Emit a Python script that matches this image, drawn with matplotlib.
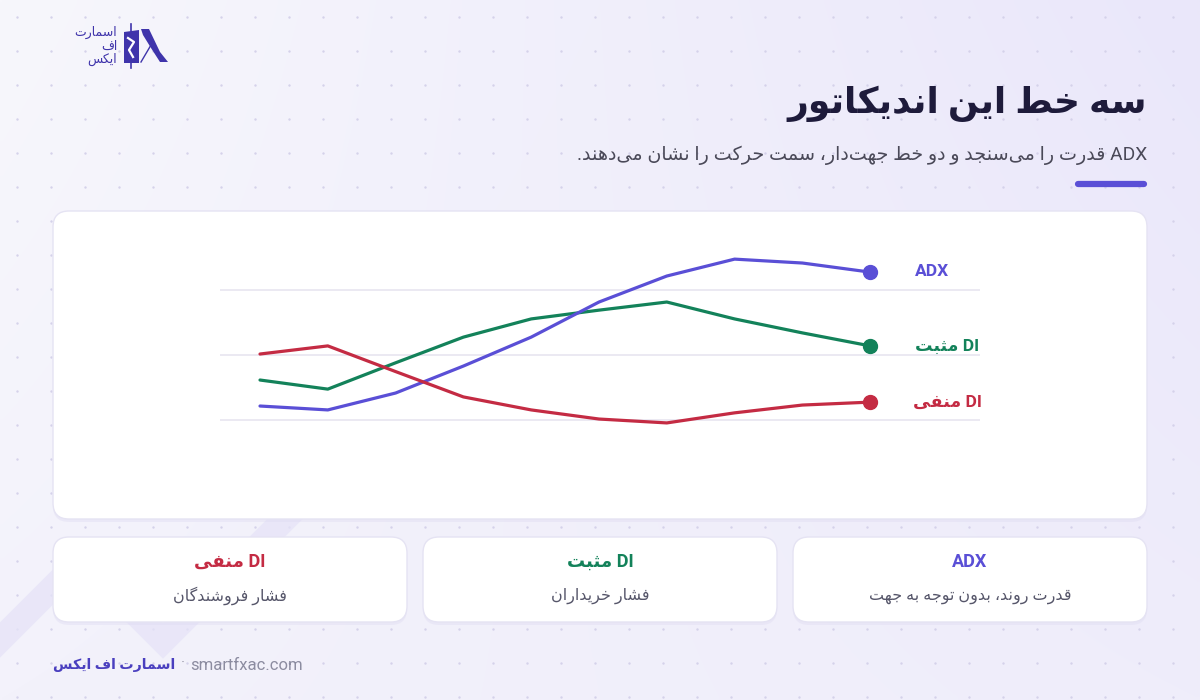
import re
import numpy as np
import matplotlib
matplotlib.use("Agg")
import matplotlib.pyplot as plt
from matplotlib.patches import FancyBboxPatch, Polygon
from matplotlib import font_manager, ft2font

# ---------------- data ----------------
steps = list(range(10))
adx = [24.3, 23.1, 28.3, 36.6, 45.5, 56.3, 64.3, 69.5, 68.3, 65.5]
di_plus = [32.3, 29.5, 37.6, 45.5, 51.1, 53.8, 56.3, 51.1, 46.8, 42.8]
di_minus = [40.3, 42.8, 34.9, 27.1, 23.1, 20.3, 19.1, 22.2, 24.6, 25.5]
grid_values = [20, 40, 60]

series_names = ["ADX", "DI مثبت", "DI منفی"]
series_colors = ["#5a4fd6", "#13825a", "#c42b43"]

title = "سه خط این اندیکاتور"
subtitle = "ADX قدرت را می‌سنجد و دو خط جهت‌دار، سمت حرکت را نشان می‌دهند."
card_titles = ["DI منفی", "DI مثبت", "ADX"]
card_colors = ["#c42b43", "#13825a", "#5a4fd6"]
card_descs = ["فشار فروشندگان", "فشار خریداران", "قدرت روند، بدون توجه به جهت"]
brand = "اسمارت اف ایکس"
url = "smartfxac.com"
logo_lines = ["اسمارت", "اف", "ایکس"]

# ---------------- Persian shaping ----------------
FORMS = {
    'ا': ('\uFE8D', '\uFE8E', None, None),
    'آ': ('\uFE81', '\uFE82', None, None),
    'ب': ('\uFE8F', '\uFE90', '\uFE91', '\uFE92'),
    'پ': ('\uFB56', '\uFB57', '\uFB58', '\uFB59'),
    'ت': ('\uFE95', '\uFE96', '\uFE97', '\uFE98'),
    'ث': ('\uFE99', '\uFE9A', '\uFE9B', '\uFE9C'),
    'ج': ('\uFE9D', '\uFE9E', '\uFE9F', '\uFEA0'),
    'چ': ('\uFB7A', '\uFB7B', '\uFB7C', '\uFB7D'),
    'ح': ('\uFEA1', '\uFEA2', '\uFEA3', '\uFEA4'),
    'خ': ('\uFEA5', '\uFEA6', '\uFEA7', '\uFEA8'),
    'د': ('\uFEA9', '\uFEAA', None, None),
    'ذ': ('\uFEAB', '\uFEAC', None, None),
    'ر': ('\uFEAD', '\uFEAE', None, None),
    'ز': ('\uFEAF', '\uFEB0', None, None),
    'ژ': ('\uFB8A', '\uFB8B', None, None),
    'س': ('\uFEB1', '\uFEB2', '\uFEB3', '\uFEB4'),
    'ش': ('\uFEB5', '\uFEB6', '\uFEB7', '\uFEB8'),
    'ص': ('\uFEB9', '\uFEBA', '\uFEBB', '\uFEBC'),
    'ض': ('\uFEBD', '\uFEBE', '\uFEBF', '\uFEC0'),
    'ط': ('\uFEC1', '\uFEC2', '\uFEC3', '\uFEC4'),
    'ظ': ('\uFEC5', '\uFEC6', '\uFEC7', '\uFEC8'),
    'ع': ('\uFEC9', '\uFECA', '\uFECB', '\uFECC'),
    'غ': ('\uFECD', '\uFECE', '\uFECF', '\uFED0'),
    'ف': ('\uFED1', '\uFED2', '\uFED3', '\uFED4'),
    'ق': ('\uFED5', '\uFED6', '\uFED7', '\uFED8'),
    'ک': ('\uFB8E', '\uFB8F', '\uFB90', '\uFB91'),
    'گ': ('\uFB92', '\uFB93', '\uFB94', '\uFB95'),
    'ل': ('\uFEDD', '\uFEDE', '\uFEDF', '\uFEE0'),
    'م': ('\uFEE1', '\uFEE2', '\uFEE3', '\uFEE4'),
    'ن': ('\uFEE5', '\uFEE6', '\uFEE7', '\uFEE8'),
    'ه': ('\uFEE9', '\uFEEA', '\uFEEB', '\uFEEC'),
    'و': ('\uFEED', '\uFEEE', None, None),
    'ی': ('\uFBFC', '\uFBFD', '\uFBFE', '\uFBFF'),
}
SUBST = {
    '\uFB8E': '\uFED9', '\uFB8F': '\uFEDA', '\uFB90': '\uFEDB', '\uFB91': '\uFEDC',
    '\uFBFC': '\uFEEF', '\uFBFD': '\uFEF0', '\uFBFE': '\uFEF3', '\uFBFF': '\uFEF4',
    '\uFB92': '\uFED9', '\uFB93': '\uFEDA', '\uFB94': '\uFEDB', '\uFB95': '\uFEDC',
    '\uFB56': '\uFE8F', '\uFB57': '\uFE90', '\uFB58': '\uFE91', '\uFB59': '\uFE92',
    '\uFB7A': '\uFE9D', '\uFB7B': '\uFE9E', '\uFB7C': '\uFE9F', '\uFB7D': '\uFEA0',
    '\uFB8A': '\uFEAF', '\uFB8B': '\uFEB0',
}

AR_FAMILY = "DejaVu Sans"


def charmap(weight):
    path = font_manager.findfont(font_manager.FontProperties(family=AR_FAMILY, weight=weight))
    try:
        return set(ft2font.FT2Font(path).get_charmap().keys())
    except Exception:
        return set()


CMAPS = {"normal": charmap("normal"), "bold": charmap("bold")}


def shape(s):
    out = []
    for i, c in enumerate(s):
        if c == '\u200c':
            continue
        if c not in FORMS:
            out.append(c)
            continue
        prev = s[i - 1] if i > 0 else ''
        nxt = s[i + 1] if i + 1 < len(s) else ''
        pj = prev in FORMS and FORMS[prev][2] is not None
        nj = (nxt in FORMS) and FORMS[c][2] is not None
        iso, fin, ini, med = FORMS[c]
        if pj and nj:
            out.append(med)
        elif pj:
            out.append(fin)
        elif nj:
            out.append(ini)
        else:
            out.append(iso)
    return ''.join(out)


def visual(s, weight="normal"):
    sh = shape(s)
    cm = CMAPS.get(weight, set())
    if cm:
        sh = ''.join(SUBST.get(ch, ch) if (ord(ch) not in cm and ch in SUBST) else ch for ch in sh)
    rev = sh[::-1]
    return re.sub(r'[A-Za-z0-9][A-Za-z0-9.\-]*[A-Za-z0-9]|[A-Za-z0-9]',
                  lambda m: m.group(0)[::-1], rev)


def weight_for(s, want):
    if want == "bold":
        sh = shape(s)
        cm = CMAPS["bold"]
        ok = all((ord(ch) in cm) or (ch in SUBST and ord(SUBST[ch]) in cm) or ch.isascii()
                 for ch in sh)
        if not ok:
            return "normal"
    return want


FAM = ["Roboto", AR_FAMILY]


def ptext(ax, x, y, s, size, color, weight="normal", ha="center", va="center", zorder=10):
    w = weight_for(s, weight)
    return ax.text(x, y, visual(s, w), fontsize=size, color=color, fontweight=w,
                   family=FAM, ha=ha, va=va, zorder=zorder)


# ---------------- figure ----------------
W, H = 1200, 700
fig = plt.figure(figsize=(12, 7), dpi=100)
bg = fig.add_axes([0, 0, 1, 1])
bg.set_xlim(0, W)
bg.set_ylim(H, 0)
bg.axis("off")

# gradient background
tl = np.array([247, 247, 252]) / 255
tr = np.array([234, 231, 250]) / 255
bl = np.array([243, 242, 251]) / 255
br = np.array([239, 237, 250]) / 255
u = np.linspace(0, 1, 240)[None, :, None]
v = np.linspace(0, 1, 140)[:, None, None]
img = (1 - v) * ((1 - u) * tl + u * tr) + v * ((1 - u) * bl + u * br)
bg.imshow(img, extent=[0, W, H, 0], aspect="auto", zorder=0, interpolation="bilinear")

# dot grid
dx = np.arange(17, W, 34)
dy = np.arange(17, H, 34)
DX, DY = np.meshgrid(dx, dy)
bg.scatter(DX.ravel(), DY.ravel(), s=3.0, color="#d5d2ea", linewidths=0, zorder=1)

# pale zigzag band
bg.plot([-40, 81, 163, 340], [680, 559, 641, 464], color="#e6e3f8", lw=18,
        solid_joinstyle="miter", zorder=1.5, alpha=0.75)


def card(x0, y0, x1, y1, r=16):
    sh = FancyBboxPatch((x0, y0 + 3), x1 - x0, y1 - y0,
                        boxstyle=f"round,pad=0,rounding_size={r}",
                        fc="#dcd8f0", ec="none", alpha=0.35, zorder=2)
    bg.add_patch(sh)
    p = FancyBboxPatch((x0, y0), x1 - x0, y1 - y0,
                       boxstyle=f"round,pad=0,rounding_size={r}",
                       fc="white", ec="#e5e3f3", lw=1.0, zorder=3)
    bg.add_patch(p)


card(53, 211, 1147, 519)
card_x = [(53, 407), (423, 777), (793, 1147)]
for (a, b) in card_x:
    card(a, 537, b, 622)

# logo
logo_c = "#3f34ab"
bg.add_patch(Polygon([[124, 32], [139, 30], [139, 63], [124, 63]], closed=True,
                     fc=logo_c, ec="none", zorder=4))
bg.plot([131, 131], [24, 68], color=logo_c, lw=1.2, zorder=4)
bg.plot([128, 134, 129, 133], [38, 42, 50, 57], color="white", lw=1.6, zorder=5)
bg.add_patch(Polygon([[141, 29], [149, 29], [160, 52], [168, 62], [160, 62], [151, 48], [143, 35]],
                     closed=True, fc=logo_c, ec="none", zorder=4))
bg.plot([141, 151], [62, 45], color=logo_c, lw=1.0, zorder=4)
for s, yy in zip(logo_lines, [32, 46, 59]):
    ptext(bg, 117, yy, s, 9, logo_c, ha="right")

# title & subtitle
ptext(bg, 1147, 104, title, 26, "#1e1b3b", weight="bold", ha="right")
ptext(bg, 1147, 155, subtitle, 13.8, "#4a4958", ha="right")
bg.plot([1078, 1144], [184, 184], color="#5a4fd6", lw=4.5, solid_capstyle="round", zorder=5)

# cards text
for (a, b), t, c, d in zip(card_x, card_titles, card_colors, card_descs):
    cx = (a + b) / 2
    ptext(bg, cx, 562, t, 13, c, weight="bold")
    ptext(bg, cx, 596, d, 11.5, "#56566a")

# footer
renderer = fig.canvas.get_renderer()
bt = ptext(bg, 53, 665, brand, 10.2, "#4a3fbf", weight="bold", ha="left")
bx1 = bt.get_window_extent(renderer=renderer).x1
bg.text(bx1 + 8, 664, "·", fontsize=11, color="#9a9aaa", ha="center", va="center", family=FAM)
bg.text(bx1 + 15, 665, url, fontsize=12, color="#8c8ca0", ha="left", va="center", family=FAM)

# ---------------- chart ----------------
px_l, px_r, px_t, px_b = 220, 980, 230, 480
ax = fig.add_axes([px_l / W, 1 - px_b / H, (px_r - px_l) / W, (px_b - px_t) / H])
ax.patch.set_alpha(0)
x0_px, step_px = 260, 67.8
ax.set_xlim((px_l - x0_px) / step_px, (px_r - x0_px) / step_px)
val_per_px = 20 / 65.0
ax.set_ylim(20 - (px_b - 420) * val_per_px, 20 + (420 - px_t) * val_per_px)
ax.set_yticks(grid_values)
ax.set_xticks([])
ax.grid(axis="y", color="#e9e7f1", lw=1.3)
ax.tick_params(left=False, labelleft=False)
for sp in ax.spines.values():
    sp.set_visible(False)
ax.set_zorder(6)

for vals, col, z in [(di_plus, series_colors[1], 3), (adx, series_colors[0], 4), (di_minus, series_colors[2], 5)]:
    ax.plot(steps, vals, color=col, lw=2.3, zorder=z, solid_capstyle="round", solid_joinstyle="round")
    ax.plot([steps[-1]], [vals[-1]], "o", color=col, ms=10, zorder=z + 0.5)

label_pos = [(932, 272), (947, 346), (947, 402)]
for name, col, (lx, ly) in zip(series_names, series_colors, label_pos):
    ptext(bg, lx, ly, name, 12.5, col, weight="bold")

fig.savefig("out.png", dpi=100)
